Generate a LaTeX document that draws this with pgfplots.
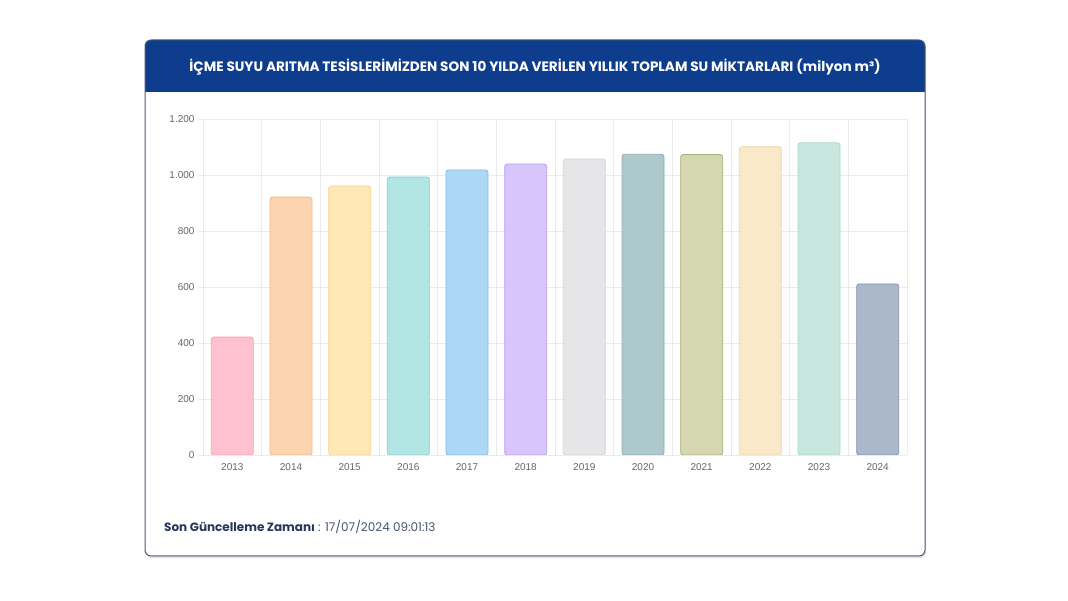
\documentclass[border=0pt]{standalone}
\usepackage{pgfplots}
\pgfplotsset{compat=1.18}
\usepackage{fontspec}
\setmainfont{Poppins}
\newfontfamily\tickf{Liberation Sans}
\definecolor{hdr}{HTML}{0E3D8E}
\definecolor{card}{HTML}{4A5A78}
\definecolor{gridc}{HTML}{EBEBEB}
\definecolor{tickc}{HTML}{666666}
\definecolor{navy}{HTML}{27365A}
\definecolor{c13}{HTML}{FFC1CF}\definecolor{b13}{HTML}{FF9FB5}
\definecolor{c14}{HTML}{FCD5B0}\definecolor{b14}{HTML}{F2B888}
\definecolor{c15}{HTML}{FFE8B5}\definecolor{b15}{HTML}{F8D48A}
\definecolor{c16}{HTML}{B1E6E4}\definecolor{b16}{HTML}{86CFCB}
\definecolor{c17}{HTML}{ACD8F5}\definecolor{b17}{HTML}{80BFEA}
\definecolor{c18}{HTML}{D7C5FB}\definecolor{b18}{HTML}{B99EF2}
\definecolor{c19}{HTML}{E6E6E8}\definecolor{b19}{HTML}{D4D4D8}
\definecolor{c20}{HTML}{AEC9CC}\definecolor{b20}{HTML}{8BAEB2}
\definecolor{c21}{HTML}{D5D7AE}\definecolor{b21}{HTML}{A9AC80}
\definecolor{c22}{HTML}{F9E9C9}\definecolor{b22}{HTML}{F1D9A8}
\definecolor{c23}{HTML}{C9E6DF}\definecolor{b23}{HTML}{A9D6CA}
\definecolor{c24}{HTML}{ABB8CC}\definecolor{b24}{HTML}{8594AD}
\begin{document}
\begin{tikzpicture}[x=1pt,y=1pt]
\fill[white] (0,0) rectangle (1068,601);
% card
\fill[black!12,rounded corners=6pt] (146,43) rectangle (926,560);
\fill[white,rounded corners=6pt] (145,45) rectangle (925,561);
\begin{scope}
\clip[rounded corners=6pt] (145,45) rectangle (925,561);
\fill[hdr] (145,509) rectangle (925,561);
\end{scope}
\draw[card,line width=1pt,rounded corners=6pt] (145,45) rectangle (925,561);
\node[text=white,font=\bfseries\fontsize{13.6}{15}\selectfont] at (535,534) {İÇME SUYU ARITMA TESİSLERİMİZDEN SON 10 YILDA VERİLEN YILLIK TOPLAM SU MİKTARLARI (milyon m³)};
\node[anchor=base west,inner sep=0pt,font=\fontsize{12}{14}\selectfont] at (164,69) {\textcolor{navy}{\bfseries Son Güncelleme Zamanı}\textcolor{navy!85}{\ : 17/07/2024 09:01:13}};
\begin{axis}[
  at={(203pt,146pt)}, anchor=south west,
  scale only axis, width=704pt, height=336pt,
  xmin=-0.5, xmax=11.5, ymin=0, ymax=1200,
  ybar, bar width=42pt, bar shift=0pt,
  axis line style={draw=none},
  xtick={0,...,11},
  xticklabels={2013,2014,2015,2016,2017,2018,2019,2020,2021,2022,2023,2024},
  minor xtick={-0.5,0.5,...,11.5},
  xminorgrids, ymajorgrids,
  ytick={0,200,400,600,800,1000,1200},
  yticklabels={0,200,400,600,800,{1.000},{1.200}},
  grid style={gridc,line width=0.8pt},
  minor grid style={gridc,line width=0.8pt},
  tick align=outside,
  major tick length=5pt, minor tick length=5pt,
  xtick style={draw=none},
  minor x tick style={gridc,line width=0.8pt},
  ytick style={gridc,line width=0.8pt},
  ytick pos=left, xtick pos=bottom,
  ticklabel style={font=\tickf\fontsize{10}{12}\selectfont,text=tickc},
  every axis plot/.append style={line width=0.8pt,rounded corners=2.5pt},
]
\addplot[fill=c13,draw=b13] coordinates {(0,421)};
\addplot[fill=c14,draw=b14] coordinates {(1,921)};
\addplot[fill=c15,draw=b15] coordinates {(2,961)};
\addplot[fill=c16,draw=b16] coordinates {(3,993)};
\addplot[fill=c17,draw=b17] coordinates {(4,1018)};
\addplot[fill=c18,draw=b18] coordinates {(5,1039)};
\addplot[fill=c19,draw=b19] coordinates {(6,1057)};
\addplot[fill=c20,draw=b20] coordinates {(7,1074)};
\addplot[fill=c21,draw=b21] coordinates {(8,1073)};
\addplot[fill=c22,draw=b22] coordinates {(9,1101)};
\addplot[fill=c23,draw=b23] coordinates {(10,1115)};
\addplot[fill=c24,draw=b24] coordinates {(11,611)};
\end{axis}
\end{tikzpicture}
\end{document}
